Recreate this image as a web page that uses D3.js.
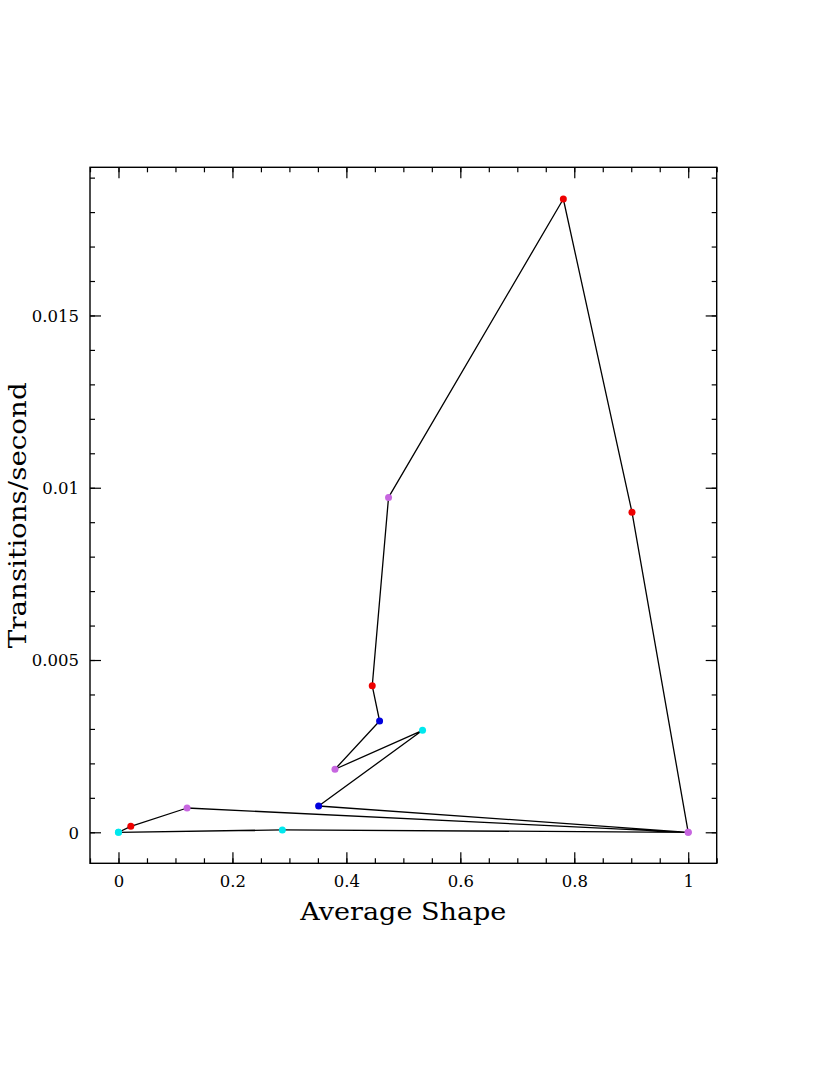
<!DOCTYPE html>
<html>
<head>
<meta charset="utf-8">
<script src="https://cdn.jsdelivr.net/npm/d3@7"></script>
<style>
  html, body { margin: 0; padding: 0; background: #fff; }
  svg { display: block; }
</style>
</head>
<body>
<svg id="chart" width="830" height="1075"></svg>
<script>
// ---- data (path order) ----
const shapeX = [0, 0.0216, 0.1204, 1, 0.3513, 0.5337, 0.38, 0.4583, 0.4454, 0.474, 0.7808, 0.9013, 1, 0.2876, 0];
const rateY  = [0, 0.000174, 0.000705, 0, 0.000763, 0.00296, 0.00183, 0.00323, 0.00425, 0.00972, 0.01838, 0.00929, 0, 0.00007, 0];
const pointColor = ["cyan", "red", "purple", "purple", "blue", "cyan", "purple", "blue", "red", "purple", "red", "red", "purple", "cyan", "cyan"];

const xMajorTicks = [0, 0.2, 0.4, 0.6, 0.8, 1];
const xTickLabels = ["0", "0.2", "0.4", "0.6", "0.8", "1"];
const xMinorTicks = [-0.05, 0, 0.05, 0.1, 0.15, 0.2, 0.25, 0.3, 0.35, 0.4, 0.45, 0.5, 0.55, 0.6, 0.65, 0.7, 0.75, 0.8, 0.85, 0.9, 0.95, 1, 1.05];
const yMajorTicks = [0, 0.005, 0.01, 0.015];
const yTickLabels = ["0", "0.005", "0.01", "0.015"];
const yMinorTicks = [0, 0.001, 0.002, 0.003, 0.004, 0.005, 0.006, 0.007, 0.008, 0.009, 0.01, 0.011, 0.012, 0.013, 0.014, 0.015, 0.016, 0.017, 0.018, 0.019];

const xTitle = "Average Shape";
const yTitle = "Transitions/second";

const colorMap = { red: "#ee0000", cyan: "#00e8ee", purple: "#c766e0", blue: "#0000dd" };

// ---- layout ----
const L = 90, R = 716.7, T = 167.3, B = 863.3;
const font = "'DejaVu Serif', 'Liberation Serif', serif";

const svg = d3.select("#chart");
const x = d3.scaleLinear().domain([-0.05, 1.05]).range([L, R]);
const y = d3.scaleLinear().domain([-0.0009, 0.0193]).range([B, T]);

function styleAxis(g) {
  g.select(".domain").remove();
  g.selectAll(".tick line").attr("stroke", "#000").attr("stroke-width", 1.2);
}

// bottom axis
svg.append("g").attr("transform", `translate(0,${B})`)
  .call(d3.axisBottom(x).tickValues(xMinorTicks).tickSize(-5).tickFormat(""))
  .call(styleAxis);
const gxb = svg.append("g").attr("transform", `translate(0,${B})`)
  .call(d3.axisBottom(x).tickValues(xMajorTicks).tickSize(-11).tickPadding(12)
    .tickFormat((d, i) => xTickLabels[i]))
  .call(styleAxis);
gxb.selectAll("text").attr("font-family", font).attr("font-size", 16.5).attr("fill", "#000")
  .attr("dy", null).attr("y", 23.6);

// top axis
svg.append("g").attr("transform", `translate(0,${T})`)
  .call(d3.axisTop(x).tickValues(xMinorTicks).tickSize(-5).tickFormat(""))
  .call(styleAxis);
svg.append("g").attr("transform", `translate(0,${T})`)
  .call(d3.axisTop(x).tickValues(xMajorTicks).tickSize(-11).tickFormat(""))
  .call(styleAxis);

// left axis
svg.append("g").attr("transform", `translate(${L},0)`)
  .call(d3.axisLeft(y).tickValues(yMinorTicks).tickSize(-5).tickFormat(""))
  .call(styleAxis);
const gyl = svg.append("g").attr("transform", `translate(${L},0)`)
  .call(d3.axisLeft(y).tickValues(yMajorTicks).tickSize(-11).tickPadding(11)
    .tickFormat((d, i) => yTickLabels[i]))
  .call(styleAxis);
gyl.selectAll("text").attr("font-family", font).attr("font-size", 16.5).attr("fill", "#000")
  .attr("dy", "0.36em");

// right axis
svg.append("g").attr("transform", `translate(${R},0)`)
  .call(d3.axisRight(y).tickValues(yMinorTicks).tickSize(-5).tickFormat(""))
  .call(styleAxis);
svg.append("g").attr("transform", `translate(${R},0)`)
  .call(d3.axisRight(y).tickValues(yMajorTicks).tickSize(-11).tickFormat(""))
  .call(styleAxis);

// frame
svg.append("rect").attr("x", L).attr("y", T).attr("width", R - L).attr("height", B - T)
  .attr("fill", "none").attr("stroke", "#000").attr("stroke-width", 1.4);

// line
const pts = shapeX.map((v, i) => [v, rateY[i]]);
svg.append("path")
  .attr("d", d3.line().x(d => x(d[0])).y(d => y(d[1]))(pts))
  .attr("fill", "none").attr("stroke", "#000").attr("stroke-width", 1.3)
  .attr("stroke-linejoin", "round");

// points
svg.append("g").selectAll("circle").data(pts).join("circle")
  .attr("cx", d => x(d[0])).attr("cy", d => y(d[1])).attr("r", 3.5)
  .attr("fill", (d, i) => colorMap[pointColor[i]]);

// titles
svg.append("text").attr("x", (L + R) / 2).attr("y", 920)
  .attr("text-anchor", "middle").attr("font-family", font).attr("font-size", 25)
  .attr("textLength", 206).attr("lengthAdjust", "spacingAndGlyphs")
  .text(xTitle);
svg.append("text")
  .attr("transform", `translate(26,${(T + B) / 2}) rotate(-90)`)
  .attr("text-anchor", "middle").attr("font-family", font).attr("font-size", 25)
  .attr("textLength", 266).attr("lengthAdjust", "spacingAndGlyphs")
  .text(yTitle);
</script>
</body>
</html>
